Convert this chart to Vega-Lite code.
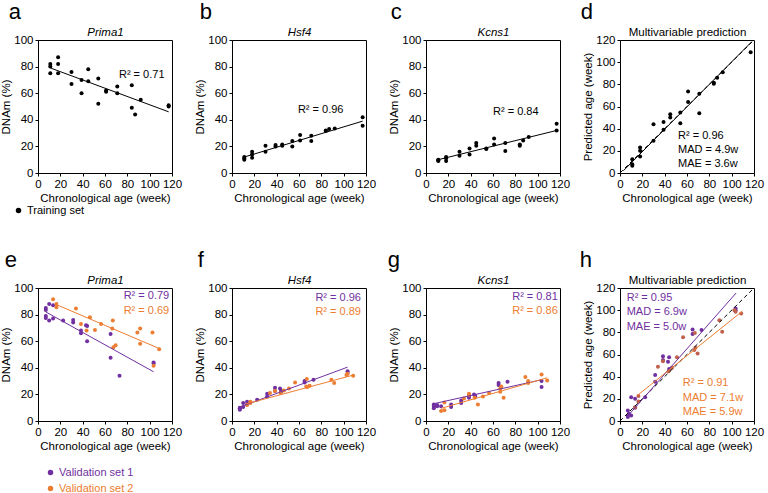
{
"$schema": "https://vega.github.io/schema/vega-lite/v6.json",
"padding": {"left": 0, "top": 0, "right": 0, "bottom": 0},
"columns": 4,
"spacing": {"row": 115, "column": 60},
"bounds": "flush",
"resolve": {"scale": {"x": "independent", "y": "independent", "color": "independent"}, "legend": {"color": "independent"}},
"config": {
  "font": "Liberation Sans",
  "view": {"stroke": "black", "strokeWidth": 1},
  "axis": {"grid": false, "labelFontSize": 11.5, "titleFontSize": 11.5, "titleFontWeight": "normal", "labelColor": "black", "titleColor": "black", "domainColor": "black", "tickColor": "black", "tickSize": 3, "labelPadding": 2, "titlePadding": 3, "labelOverlap": false, "labelFlush": false, "labelFont": "Liberation Sans", "titleFont": "Liberation Sans"},
  "axisY": {"titlePadding": 2},
  "title": {"font": "Liberation Sans", "fontSize": 22, "fontWeight": "normal", "color": "black", "anchor": "start", "frame": "bounds", "offset": 2},
  "text": {"fontSize": 11, "font": "Liberation Sans"},
  "legend": {"labelFont": "Liberation Sans", "labelFontSize": 11}
},
"concat": [
{
  "width": 134, "height": 133,
  "title": {"text": "a", "dx": 8},
  "resolve": {"axis": {"x": "independent"}},
  "encoding": {"y": {"field": "value", "type": "quantitative", "scale": {"domain": [0, 100], "nice": false}, "axis": {"values": [0,20,40,60,80,100], "title": "DNAm (%)"}}},
  "layer": [
    {"data": {"values": [
      {"age":11,"value":82,"set":"Training set"},{"age":11,"value":80,"set":"Training set"},{"age":11,"value":75,"set":"Training set"},
      {"age":18,"value":87,"set":"Training set"},{"age":18,"value":82,"set":"Training set"},{"age":18,"value":75,"set":"Training set"},
      {"age":30,"value":76,"set":"Training set"},{"age":30,"value":67,"set":"Training set"},
      {"age":39,"value":70,"set":"Training set"},{"age":39,"value":60,"set":"Training set"},
      {"age":45,"value":78,"set":"Training set"},{"age":45,"value":69,"set":"Training set"},
      {"age":54,"value":71,"set":"Training set"},{"age":54,"value":52,"set":"Training set"},
      {"age":61,"value":62,"set":"Training set"},{"age":61,"value":61,"set":"Training set"},
      {"age":71,"value":65,"set":"Training set"},{"age":71,"value":60,"set":"Training set"},
      {"age":84,"value":66,"set":"Training set"},{"age":84,"value":49,"set":"Training set"},
      {"age":87,"value":44,"set":"Training set"},{"age":92,"value":55,"set":"Training set"},
      {"age":117,"value":51,"set":"Training set"},{"age":117,"value":50,"set":"Training set"}]},
     "mark": {"type": "circle", "size": 16, "opacity": 1},
     "encoding": {
       "x": {"field": "age", "type": "quantitative", "scale": {"domain": [0, 120], "nice": false}, "axis": {"values": [0,20,40,60,80,100,120], "title": "Chronological age (week)"}},
       "color": {"field": "set", "type": "nominal", "scale": {"domain": ["Training set"], "range": ["#000000"]}, "legend": {"title": null, "orient": "none", "legendX": -25, "legendY": 165, "symbolSize": 16, "symbolType": "circle", "labelOffset": 3, "labelColor": "black"}}
     }},
    {"data": {"values": [{"age":11,"value":79,"set":"Training set"},{"age":117,"value":46,"set":"Training set"}]},
     "mark": {"type": "line", "strokeWidth": 1},
     "encoding": {
       "x": {"field": "age", "type": "quantitative", "axis": {"orient": "top", "title": "Prima1", "labels": false, "ticks": false, "domain": false, "titleFontStyle": "italic"}},
       "color": {"field": "set", "type": "nominal", "legend": null}
     }},
    {"data": {"values": [{"age":72.5,"value":74,"label":"R² = 0.71","set":"Training set"}]},
     "mark": {"type": "text", "align": "left", "baseline": "middle"},
     "encoding": {
       "x": {"field": "age", "type": "quantitative", "axis": null},
       "text": {"field": "label"},
       "color": {"field": "set", "type": "nominal", "legend": null}
     }}
  ]
},
{
  "width": 134, "height": 133,
  "title": {"text": "b", "dx": 5},
  "resolve": {"axis": {"x": "independent"}},
  "encoding": {"y": {"field": "value", "type": "quantitative", "scale": {"domain": [0, 100], "nice": false}, "axis": {"values": [0,20,40,60,80,100], "title": "DNAm (%)"}}},
  "layer": [
    {"data": {"values": [
      {"age":11,"value":12,"set":"Training set"},{"age":11,"value":11,"set":"Training set"},{"age":11,"value":10,"set":"Training set"},
      {"age":18,"value":16,"set":"Training set"},{"age":18,"value":14,"set":"Training set"},{"age":18,"value":11.5,"set":"Training set"},
      {"age":30,"value":20.5,"set":"Training set"},{"age":30,"value":16,"set":"Training set"},
      {"age":39,"value":21,"set":"Training set"},{"age":39,"value":20,"set":"Training set"},
      {"age":45,"value":21.5,"set":"Training set"},{"age":45,"value":20.5,"set":"Training set"},
      {"age":54,"value":24,"set":"Training set"},{"age":54,"value":20,"set":"Training set"},
      {"age":61,"value":28.5,"set":"Training set"},{"age":61,"value":24.5,"set":"Training set"},
      {"age":71,"value":28,"set":"Training set"},{"age":71,"value":24,"set":"Training set"},
      {"age":84,"value":31.5,"set":"Training set"},{"age":84,"value":32,"set":"Training set"},
      {"age":87,"value":33,"set":"Training set"},{"age":92,"value":33.5,"set":"Training set"},
      {"age":117,"value":42,"set":"Training set"},{"age":117,"value":35.5,"set":"Training set"}]},
     "mark": {"type": "circle", "size": 16, "opacity": 1},
     "encoding": {
       "x": {"field": "age", "type": "quantitative", "scale": {"domain": [0, 120], "nice": false}, "axis": {"values": [0,20,40,60,80,100,120], "title": "Chronological age (week)"}},
       "color": {"field": "set", "type": "nominal", "scale": {"domain": ["Training set"], "range": ["#000000"]}, "legend": null}
     }},
    {"data": {"values": [{"age":11,"value":12,"set":"Training set"},{"age":117,"value":39,"set":"Training set"}]},
     "mark": {"type": "line", "strokeWidth": 1},
     "encoding": {
       "x": {"field": "age", "type": "quantitative", "axis": {"orient": "top", "title": "Hsf4", "labels": false, "ticks": false, "domain": false, "titleFontStyle": "italic"}},
       "color": {"field": "set", "type": "nominal", "legend": null}
     }},
    {"data": {"values": [{"age":59,"value":47,"label":"R² = 0.96","set":"Training set"}]},
     "mark": {"type": "text", "align": "left", "baseline": "middle"},
     "encoding": {
       "x": {"field": "age", "type": "quantitative", "axis": null},
       "text": {"field": "label"},
       "color": {"field": "set", "type": "nominal", "legend": null}
     }}
  ]
},
{
  "width": 134, "height": 133,
  "title": {"text": "c", "dx": 2},
  "resolve": {"axis": {"x": "independent"}},
  "encoding": {"y": {"field": "value", "type": "quantitative", "scale": {"domain": [0, 100], "nice": false}, "axis": {"values": [0,20,40,60,80,100], "title": "DNAm (%)"}}},
  "layer": [
    {"data": {"values": [
      {"age":11,"value":10,"set":"Training set"},{"age":11,"value":9.5,"set":"Training set"},{"age":11,"value":9,"set":"Training set"},
      {"age":18,"value":12,"set":"Training set"},{"age":18,"value":11,"set":"Training set"},{"age":18,"value":9,"set":"Training set"},
      {"age":30,"value":16,"set":"Training set"},{"age":30,"value":13,"set":"Training set"},
      {"age":39,"value":18.5,"set":"Training set"},{"age":39,"value":14,"set":"Training set"},
      {"age":45,"value":22.5,"set":"Training set"},{"age":45,"value":20.5,"set":"Training set"},
      {"age":54,"value":18.5,"set":"Training set"},{"age":54,"value":18,"set":"Training set"},
      {"age":61,"value":26,"set":"Training set"},{"age":61,"value":21.5,"set":"Training set"},
      {"age":71,"value":22.5,"set":"Training set"},{"age":71,"value":16.5,"set":"Training set"},
      {"age":84,"value":21.5,"set":"Training set"},{"age":84,"value":20.5,"set":"Training set"},
      {"age":87,"value":24.5,"set":"Training set"},{"age":92,"value":27,"set":"Training set"},
      {"age":117,"value":37,"set":"Training set"},{"age":117,"value":32,"set":"Training set"}]},
     "mark": {"type": "circle", "size": 16, "opacity": 1},
     "encoding": {
       "x": {"field": "age", "type": "quantitative", "scale": {"domain": [0, 120], "nice": false}, "axis": {"values": [0,20,40,60,80,100,120], "title": "Chronological age (week)"}},
       "color": {"field": "set", "type": "nominal", "scale": {"domain": ["Training set"], "range": ["#000000"]}, "legend": null}
     }},
    {"data": {"values": [{"age":11,"value":10,"set":"Training set"},{"age":117,"value":32,"set":"Training set"}]},
     "mark": {"type": "line", "strokeWidth": 1},
     "encoding": {
       "x": {"field": "age", "type": "quantitative", "axis": {"orient": "top", "title": "Kcns1", "labels": false, "ticks": false, "domain": false, "titleFontStyle": "italic"}},
       "color": {"field": "set", "type": "nominal", "legend": null}
     }},
    {"data": {"values": [{"age":60,"value":46,"label":"R² = 0.84","set":"Training set"}]},
     "mark": {"type": "text", "align": "left", "baseline": "middle"},
     "encoding": {
       "x": {"field": "age", "type": "quantitative", "axis": null},
       "text": {"field": "label"},
       "color": {"field": "set", "type": "nominal", "legend": null}
     }}
  ]
},
{
  "width": 134, "height": 133,
  "title": {"text": "d", "dx": -2},
  "resolve": {"axis": {"x": "independent"}},
  "encoding": {"y": {"field": "value", "type": "quantitative", "scale": {"domain": [0, 120], "nice": false}, "axis": {"values": [0,20,40,60,80,100,120], "title": "Predicted age (week)"}}},
  "layer": [
    {"data": {"values": [
      {"age":11,"value":12.5,"set":"Training set"},{"age":11,"value":8,"set":"Training set"},{"age":11,"value":6.5,"set":"Training set"},
      {"age":18,"value":23,"set":"Training set"},{"age":18,"value":20,"set":"Training set"},{"age":18,"value":15,"set":"Training set"},
      {"age":30,"value":44,"set":"Training set"},{"age":30,"value":29,"set":"Training set"},
      {"age":39,"value":46,"set":"Training set"},{"age":39,"value":39,"set":"Training set"},
      {"age":45,"value":53,"set":"Training set"},{"age":45,"value":50,"set":"Training set"},
      {"age":54,"value":54.5,"set":"Training set"},{"age":54,"value":45,"set":"Training set"},
      {"age":61,"value":73.5,"set":"Training set"},{"age":61,"value":64,"set":"Training set"},
      {"age":71,"value":71.5,"set":"Training set"},{"age":71,"value":54,"set":"Training set"},
      {"age":84,"value":81.5,"set":"Training set"},{"age":84,"value":80.5,"set":"Training set"},
      {"age":87,"value":86,"set":"Training set"},{"age":92,"value":91,"set":"Training set"},
      {"age":117,"value":109,"set":"Training set"}]},
     "mark": {"type": "circle", "size": 16, "opacity": 1},
     "encoding": {
       "x": {"field": "age", "type": "quantitative", "scale": {"domain": [0, 120], "nice": false}, "axis": {"values": [0,20,40,60,80,100,120], "title": "Chronological age (week)"}},
       "color": {"field": "set", "type": "nominal", "scale": {"domain": ["Training set"], "range": ["#000000"]}, "legend": null}
     }},
    {"data": {"values": [{"age":0,"value":0,"set":"Training set"},{"age":120,"value":120,"set":"Training set"}]},
     "mark": {"type": "line", "strokeWidth": 1, "strokeDash": [4, 3]},
     "encoding": {
       "x": {"field": "age", "type": "quantitative", "axis": {"orient": "top", "title": "Multivariable prediction", "labels": false, "ticks": false, "domain": false}},
       "color": {"field": "set", "type": "nominal", "legend": null}
     }},
    {"data": {"values": [{"age":3,"value":2,"set":"Training set"},{"age":118,"value":118.5,"set":"Training set"}]},
     "mark": {"type": "line", "strokeWidth": 1},
     "encoding": {
       "x": {"field": "age", "type": "quantitative", "axis": null},
       "color": {"field": "set", "type": "nominal", "legend": null}
     }},
    {"data": {"values": [
      {"age":52,"value":33.3,"label":"R² = 0.96","set":"Training set"},
      {"age":52,"value":20.6,"label":"MAD = 4.9w","set":"Training set"},
      {"age":52,"value":8,"label":"MAE = 3.6w","set":"Training set"}]},
     "mark": {"type": "text", "align": "left", "baseline": "middle"},
     "encoding": {
       "x": {"field": "age", "type": "quantitative", "axis": null},
       "text": {"field": "label"},
       "color": {"field": "set", "type": "nominal", "legend": null}
     }}
  ]
},
{
  "width": 134, "height": 133,
  "title": {"text": "e", "dx": 4},
  "resolve": {"axis": {"x": "independent"}},
  "encoding": {"y": {"field": "value", "type": "quantitative", "scale": {"domain": [0, 100], "nice": false}, "axis": {"values": [0,20,40,60,80,100], "title": "DNAm (%)"}}},
  "layer": [
    {"data": {"values": [
      {"age":7,"value":85,"set":"Validation set 1"},{"age":7,"value":83.5,"set":"Validation set 1"},{"age":7,"value":79,"set":"Validation set 1"},{"age":7,"value":77.5,"set":"Validation set 1"},
      {"age":10,"value":88,"set":"Validation set 1"},{"age":10,"value":75.5,"set":"Validation set 1"},
      {"age":13.5,"value":87,"set":"Validation set 1"},{"age":13.5,"value":77,"set":"Validation set 1"},
      {"age":22.5,"value":75.5,"set":"Validation set 1"},
      {"age":31.5,"value":76,"set":"Validation set 1"},{"age":31.5,"value":74,"set":"Validation set 1"},
      {"age":38.5,"value":68,"set":"Validation set 1"},{"age":38.5,"value":66,"set":"Validation set 1"},
      {"age":43,"value":72,"set":"Validation set 1"},{"age":44,"value":71.5,"set":"Validation set 1"},{"age":44,"value":60,"set":"Validation set 1"},
      {"age":65,"value":65.5,"set":"Validation set 1"},{"age":65,"value":47.5,"set":"Validation set 1"},
      {"age":73,"value":34,"set":"Validation set 1"},
      {"age":103.5,"value":44,"set":"Validation set 1"},{"age":103.5,"value":43,"set":"Validation set 1"},
      {"age":13.5,"value":91.5,"set":"Validation set 2"},{"age":16.5,"value":88,"set":"Validation set 2"},{"age":16.5,"value":85.5,"set":"Validation set 2"},
      {"age":34,"value":84.5,"set":"Validation set 2"},{"age":38.5,"value":73,"set":"Validation set 2"},{"age":43.5,"value":68,"set":"Validation set 2"},
      {"age":46.5,"value":78,"set":"Validation set 2"},{"age":51,"value":68.5,"set":"Validation set 2"},{"age":56.5,"value":73,"set":"Validation set 2"},
      {"age":66.5,"value":69.5,"set":"Validation set 2"},{"age":67,"value":75.5,"set":"Validation set 2"},{"age":67.5,"value":55.5,"set":"Validation set 2"},
      {"age":69.5,"value":57,"set":"Validation set 2"},{"age":89,"value":66.5,"set":"Validation set 2"},{"age":91.5,"value":69.5,"set":"Validation set 2"},
      {"age":91.5,"value":58,"set":"Validation set 2"},{"age":102.5,"value":66.5,"set":"Validation set 2"},{"age":103.5,"value":41.5,"set":"Validation set 2"},
      {"age":108.5,"value":54,"set":"Validation set 2"}]},
     "mark": {"type": "circle", "size": 16, "opacity": 1},
     "encoding": {
       "x": {"field": "age", "type": "quantitative", "scale": {"domain": [0, 120], "nice": false}, "axis": {"values": [0,20,40,60,80,100,120], "title": "Chronological age (week)"}},
       "color": {"field": "set", "type": "nominal", "scale": {"domain": ["Validation set 1", "Validation set 2"], "range": ["#7030A0", "#ED7D31"]}, "legend": {"title": null, "orient": "none", "legendX": 7, "legendY": 179, "symbolSize": 16, "symbolType": "circle", "labelOffset": 3, "rowPadding": 4, "labelColor": {"expr": "datum.label === 'Validation set 1' ? '#7030A0' : '#ED7D31'"}}}
     }},
    {"data": {"values": [{"age":7,"value":82,"set":"Validation set 1"},{"age":103.5,"value":37,"set":"Validation set 1"},{"age":16.5,"value":87.5,"set":"Validation set 2"},{"age":108.5,"value":54.5,"set":"Validation set 2"}]},
     "mark": {"type": "line", "strokeWidth": 1},
     "encoding": {
       "x": {"field": "age", "type": "quantitative", "axis": {"orient": "top", "title": "Prima1", "labels": false, "ticks": false, "domain": false, "titleFontStyle": "italic"}},
       "color": {"field": "set", "type": "nominal", "legend": null}
     }},
    {"data": {"values": [{"age":117.5,"value":94.2,"label":"R² = 0.79","set":"Validation set 1"},{"age":117.5,"value":82.9,"label":"R² = 0.69","set":"Validation set 2"}]},
     "mark": {"type": "text", "align": "right", "baseline": "middle"},
     "encoding": {
       "x": {"field": "age", "type": "quantitative", "axis": null},
       "text": {"field": "label"},
       "color": {"field": "set", "type": "nominal", "legend": null}
     }}
  ]
},
{
  "width": 134, "height": 133,
  "title": {"text": "f", "dx": 3},
  "resolve": {"axis": {"x": "independent"}},
  "encoding": {"y": {"field": "value", "type": "quantitative", "scale": {"domain": [0, 100], "nice": false}, "axis": {"values": [0,20,40,60,80,100], "title": "DNAm (%)"}}},
  "layer": [
    {"data": {"values": [
      {"age":7,"value":10,"set":"Validation set 1"},{"age":7,"value":9,"set":"Validation set 1"},{"age":7,"value":8.5,"set":"Validation set 1"},{"age":7,"value":9.5,"set":"Validation set 1"},
      {"age":10,"value":13.5,"set":"Validation set 1"},{"age":10,"value":10.5,"set":"Validation set 1"},
      {"age":13.5,"value":14.5,"set":"Validation set 1"},{"age":13.5,"value":12.5,"set":"Validation set 1"},
      {"age":22.5,"value":16,"set":"Validation set 1"},
      {"age":31.5,"value":20.5,"set":"Validation set 1"},{"age":31.5,"value":18.5,"set":"Validation set 1"},
      {"age":38.5,"value":25,"set":"Validation set 1"},{"age":38.5,"value":22.5,"set":"Validation set 1"},
      {"age":43,"value":24.5,"set":"Validation set 1"},{"age":44,"value":23,"set":"Validation set 1"},{"age":44,"value":22,"set":"Validation set 1"},
      {"age":65,"value":30,"set":"Validation set 1"},{"age":65,"value":29,"set":"Validation set 1"},
      {"age":73,"value":31,"set":"Validation set 1"},
      {"age":103.5,"value":37.5,"set":"Validation set 1"},{"age":103.5,"value":36,"set":"Validation set 1"},
      {"age":13.5,"value":12,"set":"Validation set 2"},{"age":16.5,"value":14.5,"set":"Validation set 2"},{"age":16.5,"value":13.5,"set":"Validation set 2"},
      {"age":34,"value":21,"set":"Validation set 2"},{"age":38.5,"value":22.5,"set":"Validation set 2"},{"age":43.5,"value":21,"set":"Validation set 2"},
      {"age":46.5,"value":23,"set":"Validation set 2"},{"age":51,"value":24.5,"set":"Validation set 2"},{"age":56.5,"value":29,"set":"Validation set 2"},
      {"age":66.5,"value":26,"set":"Validation set 2"},{"age":67,"value":31.5,"set":"Validation set 2"},{"age":67.5,"value":25.5,"set":"Validation set 2"},
      {"age":69.5,"value":26.5,"set":"Validation set 2"},{"age":89,"value":31,"set":"Validation set 2"},{"age":91.5,"value":28.5,"set":"Validation set 2"},
      {"age":102.5,"value":34.5,"set":"Validation set 2"},{"age":103.5,"value":35.5,"set":"Validation set 2"},{"age":108.5,"value":34,"set":"Validation set 2"}]},
     "mark": {"type": "circle", "size": 16, "opacity": 1},
     "encoding": {
       "x": {"field": "age", "type": "quantitative", "scale": {"domain": [0, 120], "nice": false}, "axis": {"values": [0,20,40,60,80,100,120], "title": "Chronological age (week)"}},
       "color": {"field": "set", "type": "nominal", "scale": {"domain": ["Validation set 1", "Validation set 2"], "range": ["#7030A0", "#ED7D31"]}, "legend": null}
     }},
    {"data": {"values": [{"age":7,"value":10.5,"set":"Validation set 1"},{"age":103.5,"value":40.5,"set":"Validation set 1"},{"age":13.5,"value":13,"set":"Validation set 2"},{"age":108.5,"value":34.5,"set":"Validation set 2"}]},
     "mark": {"type": "line", "strokeWidth": 1},
     "encoding": {
       "x": {"field": "age", "type": "quantitative", "axis": {"orient": "top", "title": "Hsf4", "labels": false, "ticks": false, "domain": false, "titleFontStyle": "italic"}},
       "color": {"field": "set", "type": "nominal", "legend": null}
     }},
    {"data": {"values": [{"age":115.5,"value":92.6,"label":"R² = 0.96","set":"Validation set 1"},{"age":115.5,"value":81.8,"label":"R² = 0.89","set":"Validation set 2"}]},
     "mark": {"type": "text", "align": "right", "baseline": "middle"},
     "encoding": {
       "x": {"field": "age", "type": "quantitative", "axis": null},
       "text": {"field": "label"},
       "color": {"field": "set", "type": "nominal", "legend": null}
     }}
  ]
},
{
  "width": 134, "height": 133,
  "title": {"text": "g", "dx": -1},
  "resolve": {"axis": {"x": "independent"}},
  "encoding": {"y": {"field": "value", "type": "quantitative", "scale": {"domain": [0, 100], "nice": false}, "axis": {"values": [0,20,40,60,80,100], "title": "DNAm (%)"}}},
  "layer": [
    {"data": {"values": [
      {"age":7,"value":12.5,"set":"Validation set 1"},{"age":7,"value":10.5,"set":"Validation set 1"},{"age":7,"value":9.5,"set":"Validation set 1"},{"age":7,"value":11.5,"set":"Validation set 1"},
      {"age":10,"value":12,"set":"Validation set 1"},{"age":10,"value":11,"set":"Validation set 1"},
      {"age":13.5,"value":11,"set":"Validation set 1"},
      {"age":22.5,"value":12.5,"set":"Validation set 1"},{"age":22.5,"value":10.5,"set":"Validation set 1"},
      {"age":31.5,"value":15.5,"set":"Validation set 1"},{"age":31.5,"value":13.5,"set":"Validation set 1"},
      {"age":38.5,"value":18.5,"set":"Validation set 1"},{"age":38.5,"value":17.5,"set":"Validation set 1"},
      {"age":43,"value":20,"set":"Validation set 1"},{"age":44,"value":19,"set":"Validation set 1"},{"age":44,"value":18.5,"set":"Validation set 1"},
      {"age":65,"value":28.5,"set":"Validation set 1"},{"age":65,"value":27,"set":"Validation set 1"},
      {"age":73,"value":29.5,"set":"Validation set 1"},
      {"age":103.5,"value":30,"set":"Validation set 1"},{"age":103.5,"value":25.5,"set":"Validation set 1"},
      {"age":13.5,"value":7.5,"set":"Validation set 2"},{"age":16.5,"value":8,"set":"Validation set 2"},{"age":16.5,"value":14,"set":"Validation set 2"},
      {"age":34,"value":17,"set":"Validation set 2"},{"age":38.5,"value":20.5,"set":"Validation set 2"},{"age":38.5,"value":19.5,"set":"Validation set 2"},
      {"age":43.5,"value":17.5,"set":"Validation set 2"},{"age":46.5,"value":12.5,"set":"Validation set 2"},{"age":51,"value":18.5,"set":"Validation set 2"},
      {"age":56.5,"value":21,"set":"Validation set 2"},{"age":66.5,"value":24.5,"set":"Validation set 2"},{"age":66.5,"value":22,"set":"Validation set 2"},
      {"age":67.5,"value":26,"set":"Validation set 2"},{"age":69.5,"value":17.5,"set":"Validation set 2"},{"age":89,"value":33,"set":"Validation set 2"},
      {"age":91.5,"value":30,"set":"Validation set 2"},{"age":91.5,"value":28.5,"set":"Validation set 2"},{"age":103.5,"value":35,"set":"Validation set 2"},
      {"age":108.5,"value":30.5,"set":"Validation set 2"}]},
     "mark": {"type": "circle", "size": 16, "opacity": 1},
     "encoding": {
       "x": {"field": "age", "type": "quantitative", "scale": {"domain": [0, 120], "nice": false}, "axis": {"values": [0,20,40,60,80,100,120], "title": "Chronological age (week)"}},
       "color": {"field": "set", "type": "nominal", "scale": {"domain": ["Validation set 1", "Validation set 2"], "range": ["#7030A0", "#ED7D31"]}, "legend": null}
     }},
    {"data": {"values": [{"age":7,"value":13,"set":"Validation set 1"},{"age":103.5,"value":31,"set":"Validation set 1"},{"age":13.5,"value":9.5,"set":"Validation set 2"},{"age":108.5,"value":32.5,"set":"Validation set 2"}]},
     "mark": {"type": "line", "strokeWidth": 1},
     "encoding": {
       "x": {"field": "age", "type": "quantitative", "axis": {"orient": "top", "title": "Kcns1", "labels": false, "ticks": false, "domain": false, "titleFontStyle": "italic"}},
       "color": {"field": "set", "type": "nominal", "legend": null}
     }},
    {"data": {"values": [{"age":118,"value":93,"label":"R² = 0.81","set":"Validation set 1"},{"age":118,"value":82.5,"label":"R² = 0.86","set":"Validation set 2"}]},
     "mark": {"type": "text", "align": "right", "baseline": "middle"},
     "encoding": {
       "x": {"field": "age", "type": "quantitative", "axis": null},
       "text": {"field": "label"},
       "color": {"field": "set", "type": "nominal", "legend": null}
     }}
  ]
},
{
  "width": 134, "height": 133,
  "title": {"text": "h", "dx": -3},
  "resolve": {"axis": {"x": "independent"}, "scale": {"color": "independent"}},
  "encoding": {"y": {"field": "value", "type": "quantitative", "scale": {"domain": [0, 120], "nice": false}, "axis": {"values": [0,20,40,60,80,100,120], "title": "Predicted age (week)"}}},
  "layer": [
    {"data": {"values": [
      {"age":7,"value":9.5,"set":"Validation set 1"},{"age":7,"value":5,"set":"Validation set 1"},{"age":7,"value":3.5,"set":"Validation set 1"},{"age":8,"value":6.5,"set":"Validation set 1"},
      {"age":10,"value":5,"set":"Validation set 1"},{"age":10,"value":21.5,"set":"Validation set 1"},
      {"age":13.5,"value":20,"set":"Validation set 1"},{"age":13.5,"value":12,"set":"Validation set 1"},
      {"age":22.5,"value":21.5,"set":"Validation set 1"},
      {"age":31.5,"value":41.5,"set":"Validation set 1"},{"age":31.5,"value":35.5,"set":"Validation set 1"},
      {"age":38.5,"value":58.5,"set":"Validation set 1"},{"age":38.5,"value":55,"set":"Validation set 1"},
      {"age":43,"value":53.5,"set":"Validation set 1"},{"age":44,"value":57.5,"set":"Validation set 1"},{"age":44,"value":47,"set":"Validation set 1"},
      {"age":65,"value":82.5,"set":"Validation set 1"},{"age":65,"value":78.5,"set":"Validation set 1"},
      {"age":73,"value":82,"set":"Validation set 1"},
      {"age":103.5,"value":101.5,"set":"Validation set 1"},{"age":103.5,"value":100,"set":"Validation set 1"},
      {"age":13.5,"value":12.5,"set":"Validation set 2"},{"age":16.5,"value":22.5,"set":"Validation set 2"},{"age":16.5,"value":17.5,"set":"Validation set 2"},
      {"age":34,"value":49,"set":"Validation set 2"},{"age":38.5,"value":54,"set":"Validation set 2"},{"age":43.5,"value":45,"set":"Validation set 2"},
      {"age":46.5,"value":48,"set":"Validation set 2"},{"age":51,"value":57.5,"set":"Validation set 2"},{"age":56.5,"value":75.5,"set":"Validation set 2"},
      {"age":66.5,"value":64,"set":"Validation set 2"},{"age":67,"value":79.5,"set":"Validation set 2"},{"age":67.5,"value":66,"set":"Validation set 2"},
      {"age":69.5,"value":61,"set":"Validation set 2"},{"age":89,"value":91,"set":"Validation set 2"},{"age":91.5,"value":80.5,"set":"Validation set 2"},
      {"age":102.5,"value":100,"set":"Validation set 2"},{"age":103.5,"value":98.5,"set":"Validation set 2"},{"age":108.5,"value":97,"set":"Validation set 2"}]},
     "mark": {"type": "circle", "size": 16, "opacity": 1},
     "encoding": {
       "x": {"field": "age", "type": "quantitative", "scale": {"domain": [0, 120], "nice": false}, "axis": {"values": [0,20,40,60,80,100,120], "title": "Chronological age (week)"}},
       "color": {"field": "set", "type": "nominal", "scale": {"domain": ["Validation set 1", "Validation set 2"], "range": ["#7030A0", "#C0604D"]}, "legend": null}
     }},
    {"data": {"values": [{"age":0,"value":0},{"age":120,"value":120}]},
     "mark": {"type": "line", "strokeWidth": 1, "strokeDash": [4, 3], "color": "black"},
     "encoding": {
       "x": {"field": "age", "type": "quantitative", "axis": {"orient": "top", "title": "Multivariable prediction", "labels": false, "ticks": false, "domain": false}}
     }},
    {"data": {"values": [{"age":6.5,"value":4,"set":"Validation set 1"},{"age":104,"value":115.5,"set":"Validation set 1"},{"age":15.5,"value":23,"set":"Validation set 2"},{"age":109.5,"value":99,"set":"Validation set 2"}]},
     "mark": {"type": "line", "strokeWidth": 1},
     "encoding": {
       "x": {"field": "age", "type": "quantitative", "axis": null},
       "color": {"field": "set", "type": "nominal", "scale": {"domain": ["Validation set 1", "Validation set 2"], "range": ["#7030A0", "#ED7D31"]}, "legend": null}
     }},
    {"data": {"values": [
      {"age":6,"value":111,"label":"R² = 0.95","set":"Validation set 1"},
      {"age":6,"value":98.2,"label":"MAD = 6.9w","set":"Validation set 1"},
      {"age":6,"value":85.2,"label":"MAE = 5.0w","set":"Validation set 1"},
      {"age":56.3,"value":33.9,"label":"R² = 0.91","set":"Validation set 2"},
      {"age":56.3,"value":20.9,"label":"MAD = 7.1w","set":"Validation set 2"},
      {"age":56.3,"value":8.2,"label":"MAE = 5.9w","set":"Validation set 2"}]},
     "mark": {"type": "text", "align": "left", "baseline": "middle"},
     "encoding": {
       "x": {"field": "age", "type": "quantitative", "axis": null},
       "text": {"field": "label"},
       "color": {"field": "set", "type": "nominal", "scale": {"domain": ["Validation set 1", "Validation set 2"], "range": ["#7030A0", "#ED7D31"]}, "legend": null}
     }}
  ]
}
]
}
